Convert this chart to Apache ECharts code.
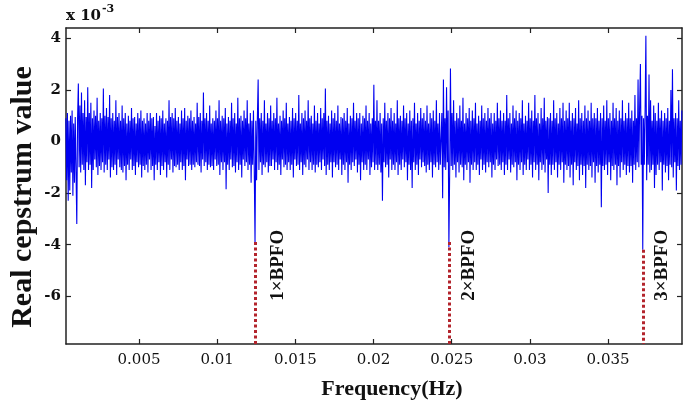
<!DOCTYPE html>
<html><head><meta charset="utf-8">
<script src="https://cdn.jsdelivr.net/npm/echarts@6/dist/echarts.min.js"></script>
<style>html,body{margin:0;padding:0;background:#fff}#c{width:694px;height:408px}</style>
</head><body><div id="c"></div>
<script>
// quefrency sampling of the cepstrum (s)
const quefStart = 0.00032;
const quefStep = 0.00005;
// real cepstrum values (x 1e-3), 20 samples per 0.001
const cepstrum = [
 0.9,-1.5,1.1,-2.3,0.8,-1.9,1.0,-1.2,1.2,-2.1,0.7,-1.6,0.95,-1.1,-3.2,0.9,2.25,-1.0,1.4,-1.2,
 1.9,-0.9,1.1,-1.1,1.6,-1.7,0.95,-0.8,2.1,-1.1,1.1,-0.9,1.5,-1.8,0.9,-1.1,1.2,-0.7,1.0,-1.0,
 1.7,-1.3,0.8,-0.95,1.1,-1.1,0.9,-0.8,2.05,-1.2,1.0,-0.9,1.3,-1.1,0.95,-0.7,1.8,-1.4,0.9,-1.0,
 1.1,-1.1,0.8,-0.9,1.6,-1.3,0.95,-0.7,1.1,-1.0,0.8,-1.1,1.4,-1.2,0.9,-0.95,1.1,-1.5,0.7,-0.9,
 1.0,-1.1,0.8,-0.7,1.3,-1.1,0.9,-0.95,0.95,-1.3,0.7,-0.8,1.1,-1.0,0.9,-0.9,1.2,-1.4,0.8,-0.95,
 0.9,-1.1,0.7,-0.9,1.1,-1.2,0.8,-0.7,1.1,-1.1,0.9,-0.95,0.95,-1.5,0.6,-0.9,1.1,-1.1,0.8,-0.8,
 1.0,-1.3,0.9,-0.95,1.2,-1.1,0.7,-0.8,0.9,-1.4,0.8,-0.9,1.6,-1.1,0.95,-0.7,1.1,-1.2,0.9,-0.95,
 1.3,-1.0,0.8,-0.9,0.95,-1.1,0.7,-0.8,1.2,-1.1,0.9,-0.95,1.3,-1.5,0.8,-0.7,1.0,-0.95,0.9,-0.9,
 1.2,-1.1,0.8,-0.9,0.95,-1.0,0.7,-0.8,1.5,-0.9,0.95,-0.95,1.1,-1.2,0.8,-0.7,1.9,-0.95,0.9,-0.8,
 1.1,-1.1,0.8,-0.9,1.4,-1.0,0.7,-0.95,0.9,-1.1,0.8,-0.7,1.2,-0.95,0.9,-0.9,1.6,-1.3,0.8,-0.8,
 1.0,-1.1,0.9,-0.8,1.3,-1.85,0.7,-0.9,0.95,-1.1,0.8,-0.7,1.5,-1.0,0.9,-0.95,1.1,-1.2,0.7,-0.8,
 1.7,-1.1,0.9,-0.9,1.0,-1.4,0.8,-0.7,1.2,-0.95,0.9,-0.8,1.6,-1.1,0.7,-0.9,1.1,-1.6,0.8,-0.9,
 1.2,-1.0,-3.95,0.8,-1.5,0.9,2.4,-1.1,0.9,-0.8,1.1,-1.3,0.8,-0.9,1.6,-1.0,0.7,-0.8,1.1,-1.2,
 0.9,-0.95,1.4,-0.95,0.8,-0.7,1.1,-1.1,0.9,-0.8,1.7,-1.1,0.7,-0.9,1.0,-1.3,0.8,-0.7,1.2,-1.0,
 0.9,-0.9,1.5,-1.1,0.7,-0.8,0.95,-1.1,0.8,-0.9,1.3,-1.4,0.9,-0.7,1.1,-0.95,0.8,-0.9,1.8,-1.1,
 0.7,-0.8,1.1,-1.3,0.9,-0.9,1.2,-1.0,0.8,-0.7,1.6,-1.1,0.9,-0.8,1.0,-1.1,0.7,-0.9,1.4,-1.2,
 0.8,-0.9,1.1,-1.0,0.7,-0.8,1.3,-1.1,0.9,-0.7,1.1,-0.95,2.05,-1.3,0.8,-0.9,1.0,-1.1,0.7,-0.8,
 1.2,-1.4,0.9,-0.8,1.1,-1.0,0.8,-0.9,1.4,-1.1,0.7,-0.7,0.95,-1.3,0.9,-0.9,1.1,-1.1,0.8,-0.8,
 1.3,-1.6,0.7,-0.9,1.0,-1.1,0.9,-0.8,1.5,-0.95,0.8,-0.7,1.1,-1.2,0.9,-0.9,1.1,-1.5,0.7,-0.8,
 1.0,-1.1,0.9,-0.9,1.4,-1.1,0.8,-0.7,1.1,-1.3,0.7,-1.0,0.9,-0.8,2.2,-1.1,0.8,-0.9,1.6,-1.1,
 0.8,-0.9,1.1,-1.2,0.7,-2.3,0.9,-0.8,1.5,-1.0,0.8,-0.9,1.1,-1.4,0.9,-0.7,1.3,-1.1,0.8,-0.9,
 1.1,-1.1,0.7,-0.8,1.6,-1.3,0.9,-0.9,1.0,-1.1,0.8,-0.7,1.4,-1.0,0.9,-0.8,1.1,-1.5,0.7,-0.9,
 1.2,-1.1,0.8,-1.8,0.9,-0.8,1.5,-1.1,0.7,-0.9,1.1,-1.3,0.8,-0.7,1.3,-1.0,0.9,-0.8,1.1,-0.95,
 0.8,-1.2,1.4,-0.9,0.7,-1.1,1.1,-0.8,0.9,-1.4,1.2,-0.9,0.8,-1.0,1.6,-0.8,0.7,-1.1,1.1,-0.9,
 -0.9,1.1,-2.2,2.4,-1.0,0.9,-1.1,2.1,-0.8,1.2,-4.1,-1.2,2.83,-0.95,1.1,-1.1,1.6,-0.9,0.8,-1.4,
 1.1,-0.8,0.9,-1.2,1.4,-0.9,0.8,-1.0,1.7,-1.5,0.7,-0.9,1.1,-1.1,0.9,-0.8,1.3,-1.6,0.8,-0.9,
 1.2,-1.1,0.9,-0.8,1.5,-1.1,0.7,-0.9,1.0,-1.3,0.8,-0.7,1.4,-1.1,0.9,-0.9,1.1,-1.2,0.8,-0.8,
 1.3,-1.0,0.9,-0.8,1.1,-1.4,0.7,-0.9,1.1,-1.1,0.8,-0.7,1.5,-0.95,0.9,-0.9,1.2,-1.1,0.8,-0.8,
 1.1,-1.3,0.8,-0.9,1.8,-1.1,0.9,-0.7,1.1,-1.2,0.7,-0.9,1.4,-1.0,0.9,-0.8,1.2,-1.5,0.8,-0.9,
 1.1,-1.1,0.9,-0.8,1.6,-1.3,0.7,-0.9,1.0,-1.1,0.8,-0.7,1.5,-1.1,0.9,-0.9,1.2,-1.4,0.8,-0.8,
 1.8,-1.1,0.9,-0.9,1.1,-1.5,0.7,-0.8,1.3,-1.1,0.9,-0.9,1.7,-1.2,0.8,-0.7,0.95,-2.0,0.9,-0.9,
 1.1,-1.3,0.8,-0.9,1.6,-1.1,0.9,-0.8,1.1,-1.4,0.7,-0.9,1.3,-1.1,0.9,-0.8,1.5,-1.6,0.8,-0.9,
 1.2,-1.1,0.9,-0.95,1.5,-1.4,0.8,-0.9,1.1,-1.7,0.9,-0.8,1.3,-1.1,0.7,-0.95,1.6,-1.5,0.9,-0.9,
 1.1,-1.3,0.8,-0.95,1.4,-1.8,0.9,-0.9,1.2,-1.1,0.8,-0.95,1.5,-1.4,0.9,-0.8,1.1,-1.6,0.9,-0.95,
 1.3,-1.2,0.8,-0.9,1.1,-2.55,0.9,-0.95,1.4,-1.1,0.8,-0.9,1.6,-1.3,0.9,-0.8,1.1,-1.5,0.8,-0.95,
 1.5,-1.1,0.9,-0.9,1.3,-1.7,0.8,-0.95,1.2,-1.4,0.9,-0.8,1.6,-1.1,0.8,-0.9,1.1,-1.3,0.9,-0.95,
 1.5,-1.2,0.9,-0.95,1.2,-1.6,0.8,-0.9,1.8,-1.1,0.9,-0.8,2.4,-1.0,1.3,3.0,-0.9,1.0,-4.2,0.9,
 -0.9,1.2,4.1,-1.5,1.0,-0.9,2.6,-1.2,1.6,-1.1,0.8,-0.9,1.4,-1.8,1.1,-1.3,0.8,-0.9,1.5,-1.1,
 0.9,-0.8,1.2,-1.9,0.8,-0.9,1.1,-1.2,0.9,-0.95,1.3,-1.5,0.8,-0.9,2.0,-1.0,2.8,-1.4,0.9,-0.8,
 1.1,-1.9,0.9,-0.95,1.6,-1.1,0.8,-0.9,1.2
];
const xTicks = [0.005,0.01,0.015,0.02,0.025,0.03,0.035];
const yTicks = [-6,-4,-2,0,2,4];
const xRange = [0.00033, 0.03973];
const yRange = [-7.85, 4.4];
const bpfo = [0.01242, 0.02482, 0.03722];
const bpfoTop = [-3.9, -3.9, -4.2];
const bpfoLabels = ['1×BPFO','2×BPFO','3×BPFO'];

const seriesData = cepstrum.map((v,i)=>[quefStart + i*quefStep, v]);
const axisCol = '#222';
const serif = '"Liberation Serif","Times New Roman",serif';
const tickFont = '"DejaVu Serif","Liberation Serif",serif';

function xAx(pos, showLabel){
  return {type:'value', position:pos, min:xRange[0], max:xRange[1],
    axisLine:{show:true, onZero:false, lineStyle:{color:axisCol, width:1.5}},
    axisTick:{show:true, inside:true, length:5, customValues:xTicks, lineStyle:{color:axisCol,width:1.2}},
    axisLabel:{show:showLabel, customValues:xTicks, formatter:v=>String(+v.toFixed(3)), fontFamily:tickFont, fontSize:15, color:'#111', margin:9},
    splitLine:{show:false}};
}
function yAx(pos, showLabel){
  return {type:'value', position:pos, min:yRange[0], max:yRange[1],
    axisLine:{show:true, onZero:false, lineStyle:{color:axisCol, width:1.5}},
    axisTick:{show:true, inside:true, length:5, customValues:yTicks, lineStyle:{color:axisCol,width:1.2}},
    axisLabel:{show:showLabel, customValues:yTicks, fontFamily:tickFont, fontWeight:'bold', fontSize:15, color:'#111', margin:5},
    splitLine:{show:false}};
}

const chart = echarts.init(document.getElementById('c'), null, {renderer:'canvas'});
chart.setOption({
  animation:false,
  backgroundColor:'#fff',
  grid:{left:66, right:12, top:28, bottom:64},
  xAxis:[xAx('bottom', true), xAx('top', false)],
  yAxis:[yAx('left', true), yAx('right', false)],
  series:[{
    type:'line', xAxisIndex:0, yAxisIndex:0, data:seriesData, showSymbol:false, symbol:'none',
    sampling:null, lineStyle:{color:'#0000f0', width:1.1}, silent:true,
    markLine:{silent:true, symbol:['none','none'], label:{show:false},
      lineStyle:{color:'#b3242c', type:[3,2.5], width:3},
      data: bpfo.map((b,k)=>[{coord:[b,bpfoTop[k]]},{coord:[b,yRange[0]]}])}
  }]
});

const graphics = [
  {type:'text', left:66, top:9, style:{text:'x 10', font:'bold 15px '+tickFont, fill:'#111'}},
  {type:'text', left:102, top:4, style:{text:'-3', font:'bold 11px '+tickFont, fill:'#111'}},
  {type:'text', x:23, y:197, rotation:Math.PI/2, style:{text:'Real cepstrum value', font:'bold 30px '+serif, fill:'#111', align:'center', verticalAlign:'middle'}},
  {type:'text', x:392, y:389, style:{text:'Frequency(Hz)', font:'bold 22px '+serif, fill:'#111', align:'center', verticalAlign:'middle'}}
];
const labelOffsets = [23, 20, 19];
bpfo.forEach((b,k)=>{
  const p = chart.convertToPixel({xAxisIndex:0, yAxisIndex:0}, [b, -4.8]);
  graphics.push({type:'text', x:p[0]+labelOffsets[k], y:p[1], rotation:Math.PI/2,
    style:{text:bpfoLabels[k], font:'bold 19px '+serif, fill:'#111', align:'center', verticalAlign:'middle'}});
});
chart.setOption({graphic:graphics});
</script></body></html>
